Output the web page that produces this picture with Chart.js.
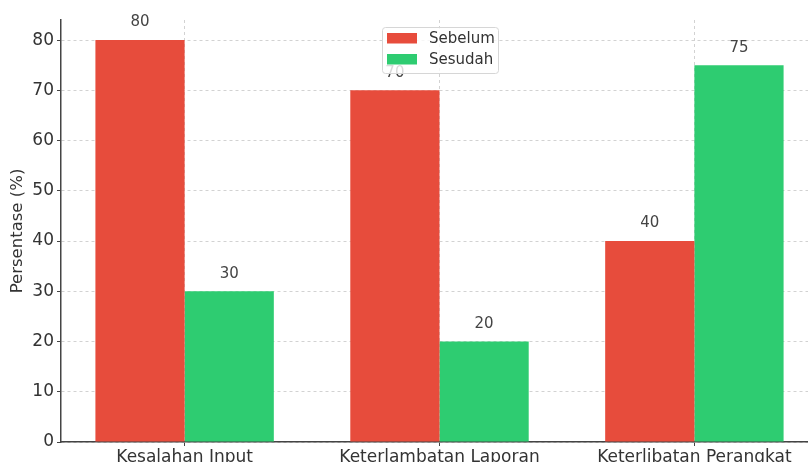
<!DOCTYPE html>
<html>
<head>
<meta charset="utf-8">
<script src="https://cdn.jsdelivr.net/npm/chart.js@4.4.1/dist/chart.umd.min.js"></script>
<style>
  html, body { margin: 0; padding: 0; background: #fff; width: 808px; height: 462px; overflow: hidden; }
  #wrap { position: absolute; left: 0; top: 0; width: 830px; height: 480px; }
</style>
</head>
<body>
<div id="wrap"><canvas id="chart"></canvas></div>
<script>
const categories = ['Kesalahan Input', 'Keterlambatan Laporan', 'Keterlibatan Perangkat'];
const seriesNames = ['Sebelum', 'Sesudah'];
const sebelum = [80, 70, 40];
const sesudah = [30, 20, 75];
const yTicks = [0, 10, 20, 30, 40, 50, 60, 70, 80];

const FONT = 'DejaVu Sans';
const TEXT = '#333333';

// numbers above every bar
const valueLabels = {
  id: 'valueLabels',
  afterDatasetsDraw(chart) {
    const ctx = chart.ctx;
    ctx.save();
    ctx.font = '15px "' + FONT + '"';
    ctx.fillStyle = '#444444';
    ctx.textAlign = 'center';
    ctx.textBaseline = 'middle';
    chart.data.datasets.forEach((ds, i) => {
      chart.getDatasetMeta(i).data.forEach((bar, j) => {
        ctx.fillText(String(ds.data[j].y), bar.x, bar.y - 17.5);
      });
    });
    ctx.restore();
  }
};

// matplotlib style legend box inside the plot
const boxLegend = {
  id: 'boxLegend',
  afterDraw(chart) {
    const ctx = chart.ctx;
    const x = 382.5, y = 27.5, w = 116, h = 46;
    ctx.save();
    ctx.fillStyle = 'rgba(255,255,255,0.8)';
    ctx.strokeStyle = '#d6d6d6';
    ctx.lineWidth = 1;
    ctx.beginPath();
    ctx.roundRect(x, y, w, h, 3);
    ctx.fill();
    ctx.stroke();
    ctx.font = '15px "' + FONT + '"';
    ctx.textBaseline = 'middle';
    chart.data.datasets.forEach((ds, i) => {
      const cy = 38 + i * 21;
      ctx.fillStyle = ds.backgroundColor;
      ctx.fillRect(387, cy - 5, 30, 10.5);
      ctx.fillStyle = TEXT;
      ctx.fillText(ds.label, 429, cy + 1);
    });
    ctx.restore();
  }
};

new Chart(document.getElementById('chart'), {
  type: 'bar',
  data: {
    datasets: [
      {
        label: seriesNames[0],
        data: sebelum.map((v, i) => ({ x: i, y: v })),
        backgroundColor: '#e74c3c'
      },
      {
        label: seriesNames[1],
        data: sesudah.map((v, i) => ({ x: i, y: v })),
        backgroundColor: '#2ecc71'
      }
    ]
  },
  options: {
    responsive: true,
    maintainAspectRatio: false,
    animation: false,
    events: [],
    categoryPercentage: 0.7,
    barPercentage: 1.0,
    borderWidth: 0,
    layout: { padding: { left: 1, right: 12, top: 20, bottom: 0 } },
    plugins: {
      legend: { display: false },
      tooltip: { enabled: false }
    },
    scales: {
      x: {
        type: 'linear',
        min: -0.485,
        max: 2.485,
        offset: false,
        afterBuildTicks: s => { s.ticks = categories.map((c, i) => ({ value: i })); },
        afterFit: s => { s.height = 38; },
        ticks: {
          callback: v => categories[v],
          autoSkip: false,
          maxRotation: 0,
          padding: 1,
          color: TEXT,
          font: { family: FONT, size: 17 }
        },
        grid: {
          color: '#d2d2d2',
          lineWidth: 1,
          offset: false,
          tickLength: 4,
          tickColor: '#444444',
          tickWidth: 1
        },
        border: { display: true, color: '#444444', width: 1.5, dash: [3, 3] }
      },
      y: {
        min: 0,
        max: 84,
        afterBuildTicks: s => { s.ticks = yTicks.map(v => ({ value: v })); },
        afterFit: s => { s.width = 60; },
        ticks: {
          padding: 3,
          color: TEXT,
          font: { family: FONT, size: 17 }
        },
        title: {
          display: true,
          text: 'Persentase (%)',
          color: TEXT,
          font: { family: FONT, size: 16.5 },
          padding: { top: 7, bottom: 0 }
        },
        grid: {
          color: '#d2d2d2',
          lineWidth: 1,
          tickLength: 4,
          tickColor: '#444444',
          tickWidth: 1
        },
        border: { display: true, color: '#444444', width: 1.5, dash: [3, 3] }
      }
    }
  },
  plugins: [valueLabels, boxLegend]
});
</script>
</body>
</html>
